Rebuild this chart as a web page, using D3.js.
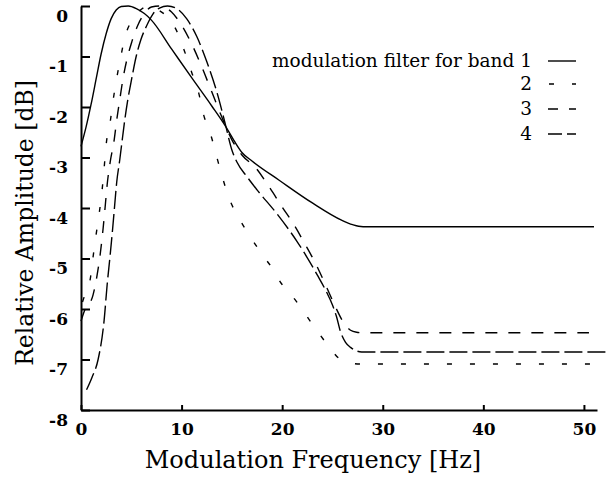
<!DOCTYPE html>
<html>
<head>
<meta charset="utf-8">
<script src="https://cdn.jsdelivr.net/npm/d3@7"></script>
<style>
  body { margin: 0; background: #fff; }
  svg { display: block; }
  text { font-family: "DejaVu Serif", serif; fill: #000; }
</style>
</head>
<body>
<div id="chart"></div>
<script>
// [frequency Hz, amplitude dB]
var band1 = [[0,-2.78],[0.5,-2.4],[1,-1.95],[1.5,-1.45],[2,-0.95],[2.5,-0.55],[3,-0.25],
  [3.5,-0.08],[4,-0.01],[4.7,0],[5.5,-0.05],[6.3,-0.15],[7,-0.28],[9,-0.85],[11,-1.42],
  [13,-1.98],[14.3,-2.36],[15.2,-2.66],[16,-2.9],[17,-3.07],[19.7,-3.45],[23,-3.9],
  [25.9,-4.24],[27,-4.33],[27.6,-4.36],[28.5,-4.37],[51,-4.37]];

var band2 = [[0.15,-5.86],[0.5,-5.65],[0.9,-5.43],[1.2,-4.97],[1.5,-4.53],[1.8,-4.12],
  [2.1,-3.64],[2.3,-3.21],[2.5,-2.75],[2.9,-2.3],[3.2,-1.86],[3.55,-1.43],[3.95,-1.01],
  [4.35,-0.63],[4.95,-0.32],[5.8,-0.1],[6.8,0],[7.7,-0.08],[8.5,-0.2],[9.6,-0.53],
  [10.3,-0.9],[11,-1.31],[11.7,-1.72],[12.2,-2.16],[12.9,-2.55],[13.5,-2.99],[14.1,-3.42],
  [14.75,-3.82],[15.7,-4.2],[16.9,-4.59],[17.9,-4.89],[19,-5.19],[19.9,-5.49],[21.3,-5.82],
  [23,-6.3],[24.75,-6.77],[25.6,-6.97],[26.1,-7.03],[27.1,-7.08],[28,-7.09],[50.7,-7.09]];

var band3 = [[0,-6.24],[0.3,-6.06],[1.2,-5.72],[1.6,-5.33],[1.9,-4.93],[2.2,-4.4],[2.4,-3.98],
  [2.6,-3.54],[2.9,-3.09],[3.3,-2.65],[3.55,-2.26],[3.85,-1.86],[4.15,-1.47],[4.55,-1.07],
  [5.05,-0.71],[5.65,-0.38],[6.35,-0.14],[7,-0.02],[7.8,0],[9,-0.12],[10,-0.38],[11,-0.75],
  [12,-1.2],[13,-1.7],[14,-2.2],[15,-2.65],[16,-2.95],[17.4,-3.21],[18.7,-3.58],[20,-3.98],
  [21.2,-4.34],[22.2,-4.69],[23.4,-5.13],[24.4,-5.56],[25.3,-5.96],[25.9,-6.2],[26.3,-6.32],
  [26.8,-6.42],[27.4,-6.46],[28,-6.47],[50.5,-6.47]];

var band4 = [[0.55,-7.6],[1.1,-7.35],[1.7,-7.0],[2.3,-6.22],[2.6,-5.52],[2.9,-4.93],[3.15,-4.4],
  [3.35,-3.94],[3.55,-3.49],[3.85,-3.05],[4.15,-2.57],[4.35,-2.26],[4.65,-1.86],[5.05,-1.43],
  [5.45,-1.03],[5.95,-0.67],[6.55,-0.38],[7.15,-0.16],[7.8,-0.04],[8.6,0],[9.5,-0.05],
  [10.5,-0.25],[11.5,-0.6],[12.5,-1.1],[13.5,-1.7],[14.3,-2.3],[15,-2.85],[15.5,-3.09],
  [16.5,-3.38],[17.5,-3.64],[19.5,-4.12],[21.5,-4.67],[23.5,-5.33],[24.4,-5.66],[25,-5.92],
  [25.4,-6.15],[25.8,-6.45],[26.3,-6.66],[26.8,-6.76],[27.9,-6.85],[52.2,-6.85]];

var bands = [band1, band2, band3, band4];
var bandNames = ["1", "2", "3", "4"];
var legendTitle = "modulation filter for band";

var xTicks = [0, 10, 20, 30, 40, 50];
var yTicks = [0, -1, -2, -3, -4, -5, -6, -7, -8];

const chartWidth = 612;
const chartHeight = 477;

// gnuplot style dash patterns
var dashes = [null, "5,18", "12,11", "18,5"];
var legendOffsets = [0, -1, 2, 4];

var xScale = d3.scaleLinear().domain([0, 51.3]).range([81, 597]);
var yScale = d3.scaleLinear().domain([-8, 0]).range([410, 6]);

var svg = d3.select("#chart")
  .append("svg")
  .attr("width", chartWidth)
  .attr("height", chartHeight);

svg.append("rect")
  .attr("width", chartWidth)
  .attr("height", chartHeight)
  .attr("fill", "#fff");

var line = d3.line()
  .x(function(d) { return xScale(d[0]); })
  .y(function(d) { return yScale(d[1]); })
  .curve(d3.curveMonotoneX);

svg.selectAll("path.band")
  .data(bands)
  .enter()
  .append("path")
  .attr("class", "band")
  .attr("d", line)
  .attr("fill", "none")
  .attr("stroke", "#000")
  .attr("stroke-width", 1.4)
  .attr("stroke-dasharray", function(d, i) { return dashes[i]; });

// plain hyphen for the minus sign, like the original
function tickText(d) { return String(d); }

// axes, ticks pointing inward
var xAxis = d3.axisBottom(xScale)
  .tickValues(xTicks)
  .tickSizeInner(-5)
  .tickSizeOuter(0)
  .tickPadding(13)
  .tickFormat(tickText);

var yAxis = d3.axisLeft(yScale)
  .tickValues(yTicks)
  .tickSizeInner(-9)
  .tickSizeOuter(0)
  .tickPadding(13)
  .tickFormat(tickText);

var gx = svg.append("g")
  .attr("transform", "translate(0," + yScale(-8) + ")")
  .call(xAxis);

var gy = svg.append("g")
  .attr("transform", "translate(" + xScale(0) + ",0)")
  .call(yAxis);

[gx, gy].forEach(function(g) {
  g.select(".domain").attr("stroke", "#000").attr("stroke-width", 2);
  g.selectAll(".tick line").attr("stroke", "#000").attr("stroke-width", 2);
  g.selectAll(".tick text")
    .style("font-family", "DejaVu Serif")
    .style("font-size", "17px")
    .style("font-weight", "bold")
    .attr("fill", "#000");
});
gy.selectAll(".tick text").attr("dy", 15);

svg.append("text")
  .attr("x", 313)
  .attr("y", 468)
  .style("text-anchor", "middle")
  .style("font-size", "24px")
  .text("Modulation Frequency [Hz]");

svg.append("text")
  .attr("transform", "translate(33," + 223 + ") rotate(-90)")
  .style("text-anchor", "middle")
  .style("font-size", "23.5px")
  .text("Relative Amplitude [dB]");

// legend
var legendX = 532;
var legendRowY = [67, 90, 115, 140];

var legend = svg.selectAll("g.legend")
  .data(bandNames)
  .enter()
  .append("g")
  .attr("class", "legend");

legend.append("text")
  .attr("x", legendX)
  .attr("y", function(d, i) { return legendRowY[i]; })
  .style("text-anchor", "end")
  .style("font-size", "18.5px")
  .text(function(d, i) { return i == 0 ? legendTitle + " " + d : d; });

legend.append("line")
  .attr("x1", 548)
  .attr("x2", 576)
  .attr("y1", function(d, i) { return legendRowY[i] - 6; })
  .attr("y2", function(d, i) { return legendRowY[i] - 6; })
  .attr("stroke", "#000")
  .attr("stroke-width", 1.4)
  .attr("stroke-dasharray", function(d, i) { return dashes[i]; })
  .attr("stroke-dashoffset", function(d, i) { return legendOffsets[i]; });
</script>
</body>
</html>
